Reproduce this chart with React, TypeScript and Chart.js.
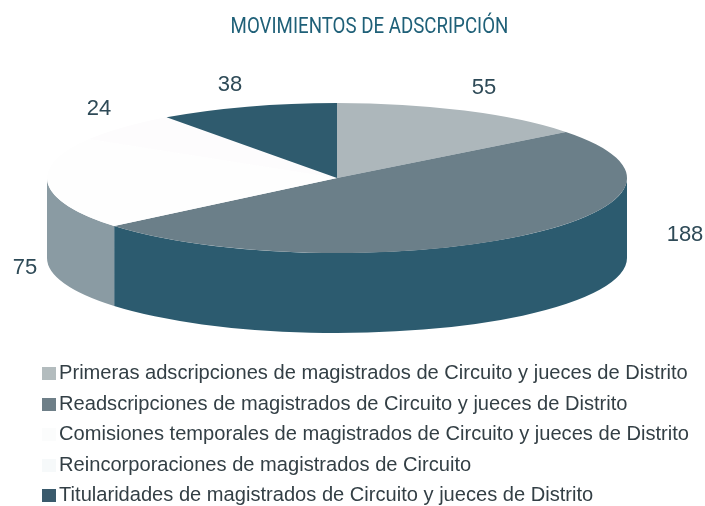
import React, { useEffect, useRef } from "react";
import { Chart, registerables } from "chart.js";

Chart.register(...registerables);

const categories = [
  "Primeras adscripciones de magistrados de Circuito y jueces de Distrito",
  "Readscripciones de magistrados de Circuito y jueces de Distrito",
  "Comisiones temporales de magistrados de Circuito y jueces de Distrito",
  "Reincorporaciones de magistrados de Circuito",
  "Titularidades de magistrados de Circuito y jueces de Distrito",
];
const values = [55, 188, 75, 24, 38];
const topColors = ["#adb7bb", "#6b7f89", "#fefefe", "#fdfcfd", "#2f5b6e"];
const sideColors = ["#8c9ca4", "#2c5b6f", "#8a9ba3", "#8a9ba3", "#2c5b6f"];
const swatchColors = ["#b3bcbe", "#6e7f88", "#fbfcfc", "#f6f9fa", "#3a5a6c"];
const titleText = "MOVIMIENTOS DE ADSCRIPCIÓN";

// Pie geometry on screen (squashed disc)
const DISC = { cx: 337, cy: 178, rx: 290, ry: 75, depth: 80 };
// Where each value label sits
const labelAnchors = [
  [484, 88],
  [685, 235],
  [25, 268],
  [99, 109],
  [230, 85],
];
const TITLE_CENTER = 369.5;
const TITLE_SQUEEZE = 0.85;

function makeSwatch(color: string) {
  const c = document.createElement("canvas");
  c.width = 14;
  c.height = 13;
  const g = c.getContext("2d") as CanvasRenderingContext2D;
  g.fillStyle = color;
  g.fillRect(0, 0, 14, 13);
  return c;
}

const pie3d = {
  id: "pie3d",
  beforeDraw(chart: any) {
    const t = chart.titleBlock;
    if (t && !t.__squeezed) {
      t.__squeezed = true;
      const orig = t.draw.bind(t);
      t.draw = (...args: any[]) => {
        const ctx = chart.ctx;
        ctx.save();
        ctx.translate(TITLE_CENTER, 0);
        ctx.scale(TITLE_SQUEEZE, 1);
        ctx.translate(-TITLE_CENTER, 0);
        orig(...args);
        ctx.restore();
      };
    }
  },
  beforeDatasetsDraw(chart: any) {
    const ctx = chart.ctx;
    const arcs = chart.getDatasetMeta(0).data;
    if (!arcs.length) return;
    const { cx, cy, rx, ry, depth } = DISC;
    ctx.save();
    arcs.forEach((el: any, i: number) => {
      for (let k = -1; k <= 1; k++) {
        const lo = Math.max(el.startAngle, k * 2 * Math.PI);
        const hi = Math.min(el.endAngle, k * 2 * Math.PI + Math.PI);
        if (hi <= lo) continue;
        ctx.beginPath();
        ctx.ellipse(cx, cy, rx, ry, 0, lo, hi, false);
        ctx.ellipse(cx, cy + depth, rx, ry, 0, hi, lo, true);
        ctx.closePath();
        ctx.fillStyle = sideColors[i];
        ctx.fill();
      }
    });
    ctx.restore();
    const a = arcs[0];
    ctx.save();
    ctx.translate(cx, cy);
    ctx.scale(rx / a.outerRadius, ry / a.outerRadius);
    ctx.translate(-a.x, -a.y);
  },
  afterDatasetsDraw(chart: any) {
    const ctx = chart.ctx;
    ctx.restore();
    ctx.save();
    ctx.font = '22px "Liberation Sans"';
    ctx.fillStyle = "#2e4a57";
    ctx.textAlign = "center";
    ctx.textBaseline = "middle";
    values.forEach((v, i) => {
      ctx.fillText(String(v), labelAnchors[i][0], labelAnchors[i][1]);
    });
    ctx.restore();
  },
};

export default function App() {
  const ref = useRef<HTMLCanvasElement>(null);
  useEffect(() => {
    const swatches = swatchColors.map(makeSwatch);
    const chart = new Chart(ref.current as HTMLCanvasElement, {
      type: "pie",
      data: {
        labels: categories,
        datasets: [
          {
            data: values,
            backgroundColor: topColors,
            borderWidth: 0,
            clip: false,
          } as any,
        ],
      },
      options: {
        responsive: false,
        animation: false,
        layout: { padding: { left: 37.5, right: 3.5, top: 0, bottom: -10 } },
        plugins: {
          tooltip: { enabled: false },
          title: {
            display: true,
            text: titleText,
            color: "#1f6078",
            font: { family: 'Roboto', size: 22, weight: "normal" },
            padding: { top: 14, bottom: 10 },
          },
          legend: {
            position: "bottom",
            align: "start",
            labels: {
              usePointStyle: true,
              pointStyleWidth: 1,
              boxHeight: 13,
              padding: 10.5,
              color: "#333f45",
              font: { family: '"Liberation Sans"', size: 20.1 },
              generateLabels: (c: any) =>
                (Chart as any).overrides.doughnut.plugins.legend.labels
                  .generateLabels(c)
                  .map((item: any, i: number) => ({ ...item, pointStyle: swatches[i] })),
            },
          },
        },
      },
      plugins: [pie3d],
    } as any);
    return () => chart.destroy();
  }, []);
  return (
    <div style={{ position: "absolute", left: 0, top: 0, width: 705, height: 506 }}>
      <canvas ref={ref} width={705} height={506} style={{ display: "block" }} />
    </div>
  );
}
